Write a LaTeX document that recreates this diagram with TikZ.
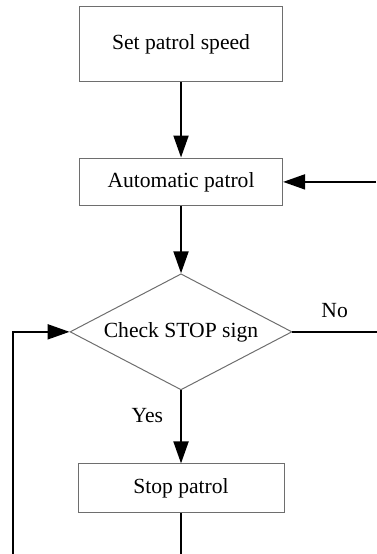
\documentclass[tikz,border=0pt]{standalone}
\usepackage{fontspec}
\setmainfont{Liberation Serif}
\usepackage{tikz}
\usetikzlibrary{shapes.geometric, arrows, arrows.meta, positioning, calc}
\definecolor{boxline}{HTML}{6e6e6e}

\begin{document}
\begin{tikzpicture}[
  block/.style={rectangle, draw=boxline, line width=0.5pt, minimum width=3.57cm, font=\fontsize{10.8}{13}\selectfont},
  decision/.style={diamond, draw=boxline, line width=0.5pt, aspect=1.91, inner sep=0pt, minimum width=3.9cm, minimum height=2.04cm, font=\fontsize{10.8}{13}\selectfont},
  arrow/.style={-{Triangle[length=11pt, width=7.5pt]}, line width=1pt, color=black},
  line/.style={draw=black, line width=1pt},
  lbl/.style={font=\fontsize{10.8}{13}\selectfont}
]
\useasboundingbox (-3.181, 0.782) rectangle (3.427, -8.953);

% Bloki
\node[block, minimum height=1.318cm] (speed) at (0, 0) {Set patrol speed};
\node[block, minimum height=0.84cm, below=1.318cm of speed] (patrol) {Automatic patrol};
\node[decision, below=1.177cm of patrol] (check) {Check STOP sign};
\node[block, minimum width=3.62cm, minimum height=0.86cm, below=1.283cm of check] (stop) {Stop patrol};

% Wolne końce
\coordinate (loopin) at ([xshift=1.634cm]patrol.east);
\coordinate (noend) at ([xshift=1.48cm]check.east);
\coordinate (stopend) at ([yshift=-0.773cm]stop.south);
\coordinate (leftend) at (-2.961, -8.953);

% Połączenia
\draw[arrow] (speed) -- (patrol);
\draw[arrow] (loopin) -- (patrol.east);
\draw[arrow] (patrol) -- (check);
\draw[line] (check.east) -- node[lbl, above=0.12cm] {No} (noend);
\draw[arrow] (check.south) -- node[lbl, left=0.18cm, pos=0.35] {Yes} (stop);
\draw[line] (stop.south) -- (stopend);
\draw[arrow] (leftend) |- (check.west);
\end{tikzpicture}
\end{document}
